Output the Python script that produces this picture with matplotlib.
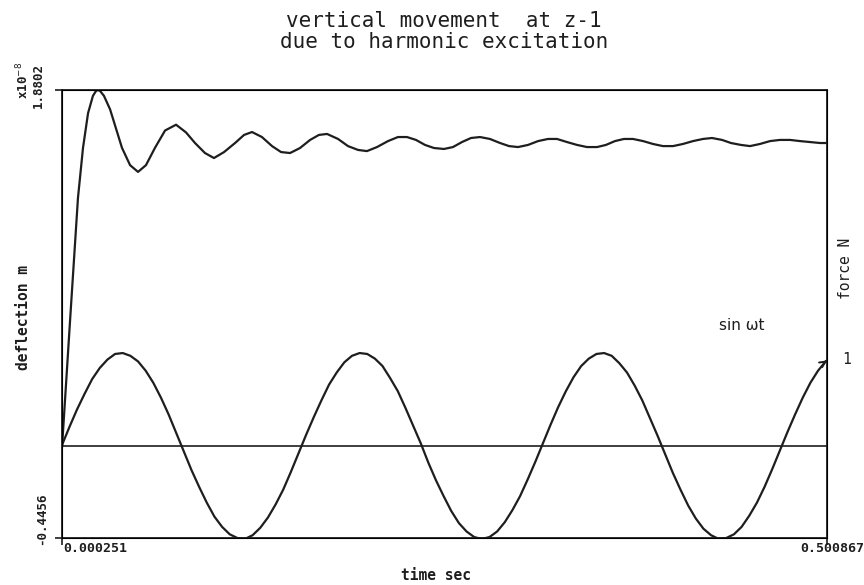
import matplotlib
matplotlib.use("Agg")
import matplotlib.pyplot as plt

# ---- data -------------------------------------------------------------------
T_MIN, T_MAX = 0.000251, 0.500867
DEFL_MIN, DEFL_MAX = -0.4456, 1.8802          # x10^-8 m

# deflection (x10^-8 m) vs time
defl_t = [0.0003, 0.0055, 0.0107, 0.0140, 0.0173, 0.0205, 0.0225, 0.0238, 0.0252,
          0.0277, 0.0317,
          0.0356, 0.0395, 0.0448, 0.0500, 0.0552, 0.0611, 0.0677, 0.0749, 0.0814,
          0.0873, 0.0938, 0.0997, 0.1063, 0.1135, 0.1194, 0.1246, 0.1311, 0.1377,
          0.1436, 0.1495, 0.1560, 0.1626, 0.1684, 0.1737, 0.1809, 0.1874, 0.1940,
          0.1998, 0.2064, 0.2136, 0.2201, 0.2260, 0.2319, 0.2378, 0.2437, 0.2502,
          0.2561, 0.2620, 0.2679, 0.2738, 0.2803, 0.2869, 0.2928, 0.2987, 0.3052,
          0.3118, 0.3183, 0.3242, 0.3307, 0.3373, 0.3438, 0.3504, 0.3562, 0.3621,
          0.3680, 0.3739, 0.3805, 0.3870, 0.3935, 0.4001, 0.4066, 0.4132, 0.4197,
          0.4256, 0.4322, 0.4380, 0.4446, 0.4505, 0.4570, 0.4636, 0.4701, 0.4767,
          0.4832, 0.4898, 0.4963, 0.5009]
defl_v = [0.03, 0.68, 1.32, 1.58, 1.76, 1.85, 1.875, 1.88, 1.875,
          1.85, 1.78,
          1.68, 1.58, 1.49, 1.455, 1.49, 1.58, 1.67, 1.70, 1.66,
          1.605, 1.553, 1.527, 1.558, 1.605, 1.647, 1.662, 1.636, 1.589,
          1.558, 1.553, 1.579, 1.621, 1.647, 1.652, 1.626, 1.589, 1.569,
          1.563, 1.584, 1.615, 1.636, 1.636, 1.621, 1.595, 1.579, 1.574,
          1.584, 1.610, 1.631, 1.636, 1.626, 1.605, 1.589, 1.584, 1.595,
          1.615, 1.626, 1.626, 1.610, 1.595, 1.584, 1.584, 1.595, 1.615,
          1.626, 1.626, 1.615, 1.600, 1.589, 1.589, 1.600, 1.615, 1.626,
          1.631, 1.621, 1.605, 1.595, 1.589, 1.600, 1.615, 1.621, 1.621,
          1.615, 1.610, 1.605, 1.605]

# excitation force (N), sin wt, sampled every 0.005 s
force_t = [0.000, 0.005, 0.010, 0.015, 0.020, 0.025, 0.030, 0.035, 0.040, 0.045,
           0.050, 0.055, 0.060, 0.065, 0.070, 0.075, 0.080, 0.085, 0.090, 0.095,
           0.100, 0.105, 0.110, 0.115, 0.120, 0.125, 0.130, 0.135, 0.140, 0.145,
           0.150, 0.155, 0.160, 0.165, 0.170, 0.175, 0.180, 0.185, 0.190, 0.195,
           0.200, 0.205, 0.210, 0.215, 0.220, 0.225, 0.230, 0.235, 0.240, 0.245,
           0.250, 0.255, 0.260, 0.265, 0.270, 0.275, 0.280, 0.285, 0.290, 0.295,
           0.300, 0.305, 0.310, 0.315, 0.320, 0.325, 0.330, 0.335, 0.340, 0.345,
           0.350, 0.355, 0.360, 0.365, 0.370, 0.375, 0.380, 0.385, 0.390, 0.395,
           0.400, 0.405, 0.410, 0.415, 0.420, 0.425, 0.430, 0.435, 0.440, 0.445,
           0.450, 0.455, 0.460, 0.465, 0.470, 0.475, 0.480, 0.485, 0.490, 0.495,
           0.500, 0.5009]
force_v = [0.00, 0.20, 0.39, 0.56, 0.72, 0.84, 0.93, 0.99, 1.00, 0.97,
           0.91, 0.81, 0.68, 0.52, 0.34, 0.14, -0.06, -0.26, -0.44, -0.61,
           -0.76, -0.87, -0.95, -0.99, -1.00, -0.96, -0.88, -0.77, -0.63, -0.47,
           -0.28, -0.08, 0.12, 0.31, 0.49, 0.66, 0.79, 0.90, 0.97, 1.00,
           0.99, 0.94, 0.86, 0.73, 0.59, 0.41, 0.22, 0.03, -0.18, -0.37,
           -0.54, -0.70, -0.83, -0.92, -0.98, -1.00, -0.98, -0.92, -0.82, -0.69,
           -0.54, -0.36, -0.17, 0.03, 0.23, 0.42, 0.59, 0.74, 0.86, 0.94,
           0.99, 1.00, 0.97, 0.89, 0.79, 0.65, 0.49, 0.30, 0.11, -0.09,
           -0.29, -0.47, -0.64, -0.78, -0.89, -0.96, -1.00, -0.99, -0.95, -0.87,
           -0.75, -0.61, -0.44, -0.25, -0.05, 0.15, 0.34, 0.52, 0.68, 0.81,
           0.91, 0.92]

INK = "#1e1e1e"
MONO = "DejaVu Sans Mono"

W, H = 864, 585
fig = plt.figure(figsize=(W / 100, H / 100), dpi=100)
fig.patch.set_facecolor("white")


def fx(px):
    return px / W


def fy(py):
    return 1 - py / H


ax = fig.add_axes([fx(62), fy(538), fx(827) - fx(62), fy(90) - fy(538)])
ax.plot(defl_t, defl_v, color=INK, lw=1.6)
ax.set_xlim(T_MIN, T_MAX)
ax.set_ylim(DEFL_MIN, DEFL_MAX)
ax.set_xticks([T_MIN, T_MAX])
ax.set_xticklabels([])
ax.set_yticks([DEFL_MIN, DEFL_MAX])
ax.set_yticklabels([])
ax.tick_params(direction="out", length=5, width=1.2, color=INK)
for s in ax.spines.values():
    s.set_linewidth(1.3)
    s.set_color(INK)

ax2 = ax.twinx()
ax2.plot(force_t, force_v, color=INK, lw=1.6)
ax2.axhline(0, color=INK, lw=1.2)
ax2.annotate("", xy=(force_t[-1], force_v[-1]), xytext=(force_t[-2], force_v[-2]),
             arrowprops=dict(arrowstyle="->", color=INK, lw=1.4))
ax2.set_ylim(-0.99, 3.83)
ax2.set_yticks([])
ax2.set_xlim(T_MIN, T_MAX)

# titles and labels in plotter-ish mono type
fig.text(fx(444), fy(21), "vertical movement  at z-1", family=MONO, fontsize=15,
         ha="center", va="center", color=INK)
fig.text(fx(444), fy(42), "due to harmonic excitation", family=MONO, fontsize=15,
         ha="center", va="center", color=INK)

fig.text(fx(63), fy(549), f"{T_MIN:.6f}", family=MONO, fontsize=9.5,
         ha="left", va="center", color=INK, weight="bold")
fig.text(fx(800), fy(549), f"{T_MAX:.6f}", family=MONO, fontsize=9.5,
         ha="left", va="center", color=INK, weight="bold")
fig.text(fx(436), fy(575), "time sec", family=MONO, fontsize=10.5,
         ha="center", va="center", color=INK, weight="bold")

fig.text(fx(23), fy(62), "x10$^{-8}$", family=MONO, fontsize=9, rotation=90,
         ha="center", va="top", color=INK, weight="bold")
fig.text(fx(38), fy(63), f"{DEFL_MAX:.4f}", family=MONO, fontsize=9, rotation=90,
         ha="center", va="top", color=INK, weight="bold")
fig.text(fx(42), fy(545), f"{DEFL_MIN:.4f}", family=MONO, fontsize=9, rotation=90,
         ha="center", va="bottom", color=INK, weight="bold")
fig.text(fx(24), fy(318), "deflection m", family=MONO, fontsize=10.5, rotation=90,
         ha="center", va="center", color=INK, weight="bold")

fig.text(fx(845), fy(268), "force N", family=MONO, fontsize=10.5, rotation=90,
         ha="center", va="center", color=INK)
fig.text(fx(847), fy(360), "1", family=MONO, fontsize=10.5,
         ha="center", va="center", color=INK)
fig.text(fx(742), fy(325), "sin ωt", family="DejaVu Sans", fontsize=11,
         ha="center", va="center", color=INK)

fig.savefig("out.png", dpi=100, facecolor="white")
